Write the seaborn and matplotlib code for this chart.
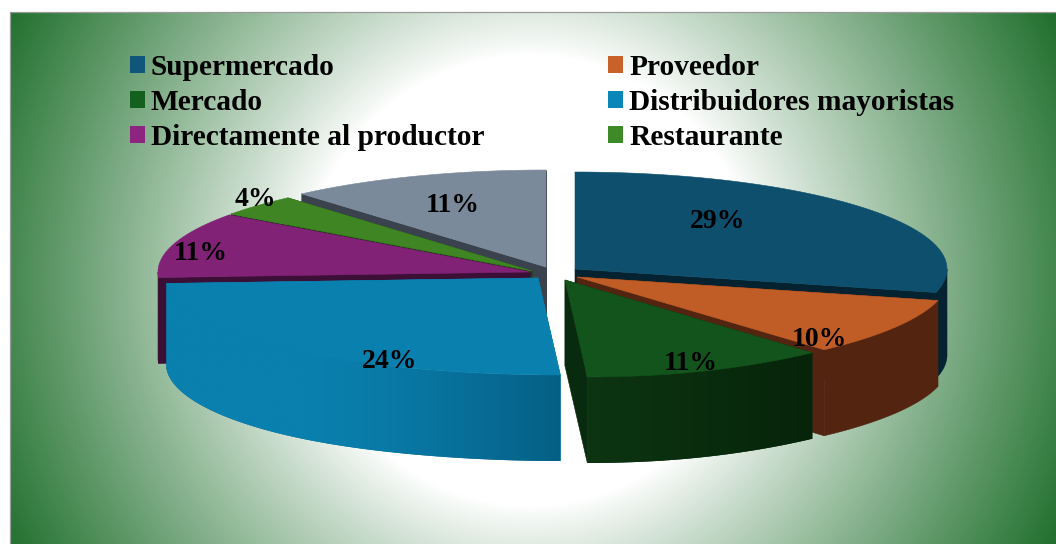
import numpy as np
import seaborn as sns
import matplotlib
matplotlib.use("Agg")
import matplotlib.pyplot as plt
from matplotlib.colors import to_rgb
from matplotlib.patches import Patch, Polygon

categories = ["Supermercado", "Proveedor", "Mercado", "Distribuidores mayoristas",
              "Directamente al productor", "Restaurante", "Otros"]
values = [28.9, 9.6, 11.4, 24.2, 10.9, 3.6, 11.4]
percent_labels = ["29%", "10%", "11%", "24%", "11%", "4%", "11%"]

face_colors = ["#0e4f6d", "#c05c26", "#12541c", "#0a80ae", "#822277", "#3f8524", "#7b8a9b"]
wall_colors = ["#04222f", "#532511", "#082a0e", "#0a80ae", "#3b0f36", "#1d3f11", "#3a424e"]
legend_colors = ["#10567a", "#c8622a", "#14601f", "#0a86b8", "#8c2480", "#3f8a28"]
apexes = [(575, 269), (577, 277), (565, 280), (538, 278), (530, 272), (532, 271), (546, 267)]
label_xy = [(718, 222), (819, 339), (691, 363), (390, 361), (201, 253), (255, 199), (453, 206)]

RX, RY, DEPTH = 372, 97, 86
SERIF = ["Liberation Serif", "DejaVu Serif"]

sns.set_theme(style="white")
plt.rcParams["font.family"] = SERIF

fig = plt.figure(figsize=(10.56, 5.44), dpi=100)
ax = fig.add_axes([0, 0, 1, 1])
ax.axis("off")

# Radial background
px, py = np.meshgrid(np.arange(10, 1056), np.arange(12, 544))
frac = np.clip((np.hypot(px - 530, py - 280) - 225) / 365, 0, 1) ** 0.9
green = np.array(to_rgb("#1f6f2c"))
bg = 1 + (green - 1) * frac[..., None]
ax.imshow(bg, extent=(10, 1056, 544, 12), aspect="auto", zorder=0, interpolation="bilinear")
ax.plot([10, 10, 1056], [544, 12, 12], color="#9a9a9a", lw=0.9, zorder=1)


def rim(apex, share):
    """Point of the slice rim at a cumulative share (0-100 clockwise from 12 o'clock)."""
    t = 2 * np.pi * np.asarray(share, dtype=float) / 100
    skew = 20 * np.clip(-np.cos(t), 0, 1) ** 10
    return apex[0] + RX * np.sin(t) + skew, apex[1] - RY * np.cos(t)


def quad(xs, ys, color, z):
    ax.fill(xs, ys, facecolor=color, edgecolor=color, lw=0.4, zorder=z)


# horizontal shading of the two front walls: dark end, light end
wall_shades = {2: ("#06240a", "#0d3512"), 3: ("#055f85", "#0a80ae")}


def shaded_wall(i, xs, ys, z):
    dark, light = (np.array(to_rgb(c)) for c in wall_shades[i])
    x0, x1 = xs.min(), xs.max()
    gx = np.linspace(0, 1, 256)
    if i == 2:
        weights = gx
    else:
        weights = np.clip((gx - 0.35) / 0.65, 0, 1) ** 1.4
    img = (light + (dark - light) * weights[:, None])[None, :, :]
    poly = Polygon(np.c_[xs, ys], closed=True, transform=ax.transData,
                   facecolor=tuple((dark + light) / 2), edgecolor="none", zorder=z)
    ax.add_patch(poly)
    im = ax.imshow(img, extent=(x0, x1, ys.max(), ys.min()), aspect="auto", zorder=z + 0.1,
                   interpolation="bilinear")
    im.set_clip_path(poly)


edges = np.concatenate([[0], np.cumsum(values)])
order = [6, 5, 4, 0, 1, 2, 3]
z = 2
for i in order:
    a, s0, s1 = apexes[i], edges[i], edges[i + 1]
    # radial walls
    for s in (s0, s1):
        x, y = rim(a, s)
        quad([a[0], x, x, a[0]], [a[1], y, y + DEPTH, a[1] + DEPTH], wall_colors[i], z)
    z += 1
    # outer wall (front part only)
    lo, hi = max(s0, 25), min(s1, 75)
    if hi > lo:
        grid = np.linspace(lo, hi, 80)
        xr, yr = rim(a, grid)
        xs = np.r_[xr, xr[::-1]]
        ys = np.r_[yr, (yr + DEPTH)[::-1]]
        if i in wall_shades:
            shaded_wall(i, xs, ys, z)
        else:
            quad(xs, ys, wall_colors[i], z)
    z += 1
    # top face
    grid = np.linspace(s0, s1, 80)
    xr, yr = rim(a, grid)
    quad(np.r_[a[0], xr], np.r_[a[1], yr], face_colors[i], z)
    z += 1

for txt, (x, y) in zip(percent_labels, label_xy):
    ax.text(x, y, txt, ha="center", va="center", fontsize=20, fontweight="bold",
            color="black", zorder=50, family=SERIF)

handles = [Patch(facecolor=c, edgecolor="none", label=n)
           for c, n in zip(legend_colors, categories[:6])]
# column-first order for a two-column legend
handles = [handles[0], handles[2], handles[4], handles[1], handles[3], handles[5]]
ax.set_xlim(0, 1056)
ax.set_ylim(544, 0)
ax.legend(handles=handles, ncol=2, loc="upper left", bbox_to_anchor=(130, 54),
          bbox_transform=ax.transData, frameon=False, borderpad=0, borderaxespad=0,
          handlelength=0.5, handleheight=0.5, handletextpad=0.2,
          columnspacing=4.22, labelspacing=0.27,
          prop={"family": SERIF, "weight": "bold", "size": 21.2},
          labelcolor="black").set_zorder(60)

fig.savefig("out.png", dpi=100, facecolor="white")
